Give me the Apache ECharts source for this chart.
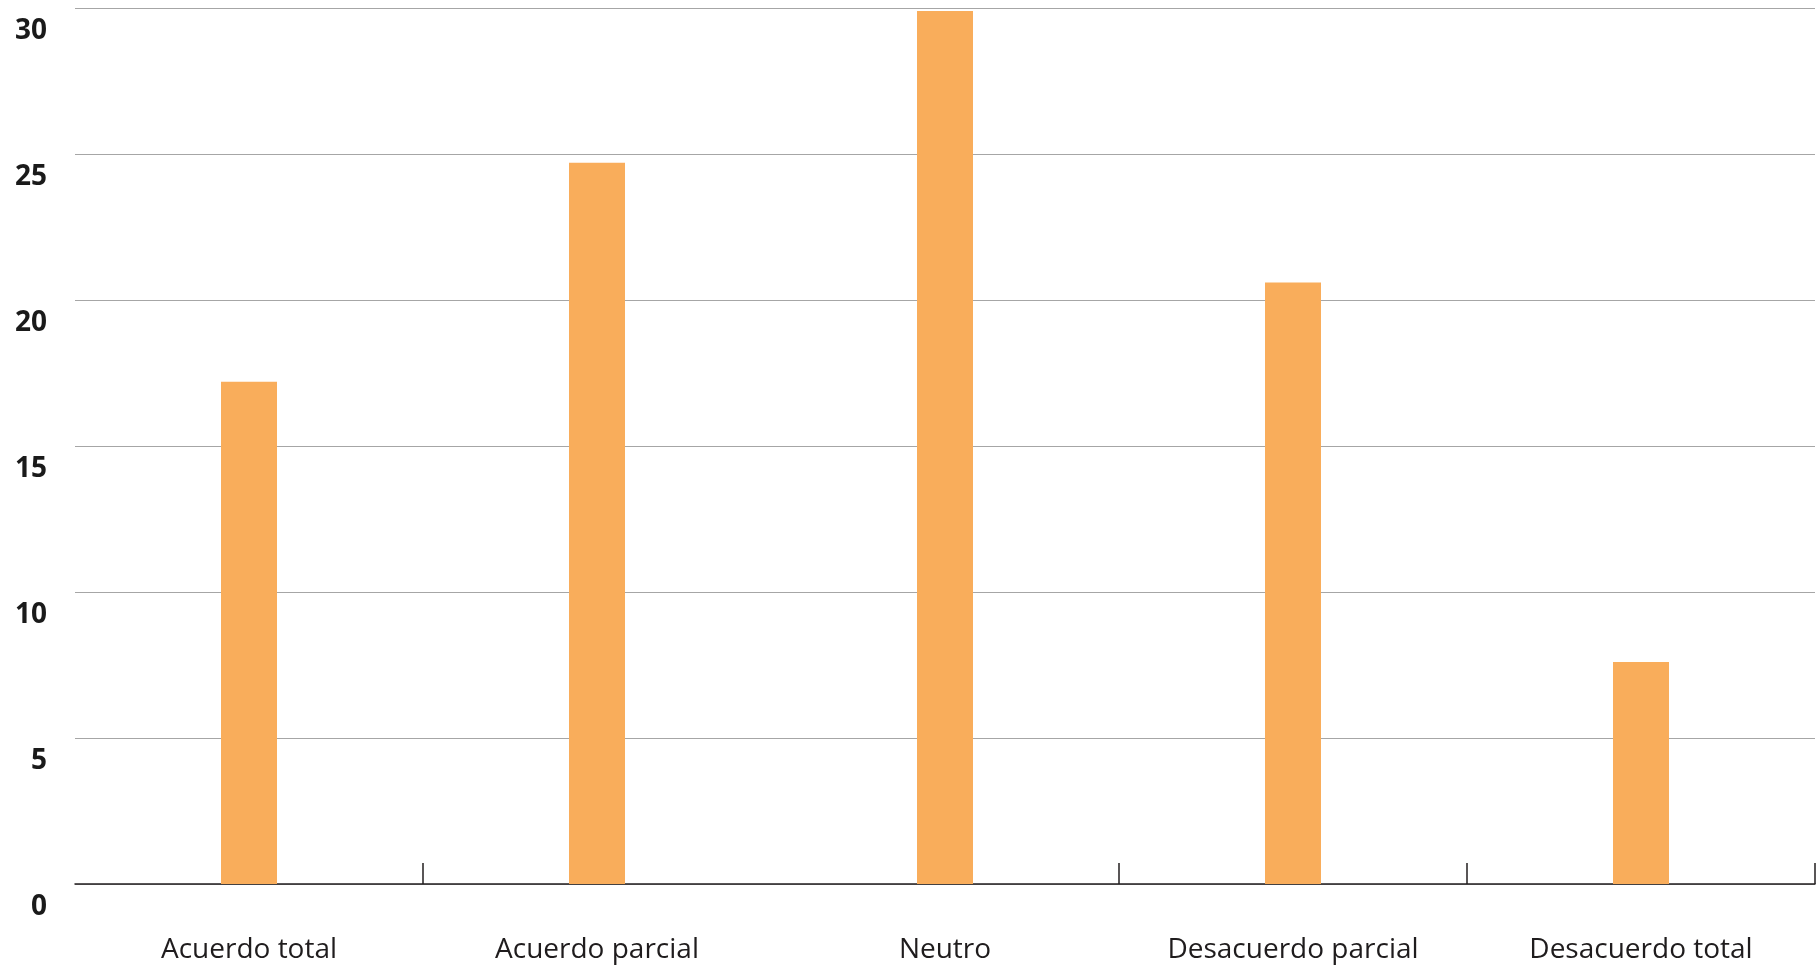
<!DOCTYPE html>
<html>
<head>
<meta charset="utf-8">
<script src="https://cdn.jsdelivr.net/npm/echarts@6/dist/echarts.min.js"></script>
<style>
html,body{margin:0;padding:0;background:#fff;}
#chart{width:1816px;height:968px;}
</style>
</head>
<body>
<div id="chart"></div>
<script>
const categories = ['Acuerdo total', 'Acuerdo parcial', 'Neutro', 'Desacuerdo parcial', 'Desacuerdo total'];
const values = [17.2, 24.7, 29.9, 20.6, 7.6];
const yTicks = [0, 5, 10, 15, 20, 25, 30];
const tickedCategories = [1, 3, 4];

const chart = echarts.init(document.getElementById('chart'), null, {renderer: 'canvas'});
chart.setOption({
  animation: false,
  backgroundColor: '#ffffff',
  grid: {left: 75, right: 1, top: 8, bottom: 84, containLabel: false},
  xAxis: {
    type: 'category',
    data: categories,
    boundaryGap: true,
    axisLine: {show: true, lineStyle: {color: '#231f20', width: 1.5}},
    axisTick: {
      show: true,
      inside: true,
      length: 21,
      lineStyle: {color: '#231f20', width: 1.5},
      interval: function (index) { return tickedCategories.indexOf(index) >= 0; }
    },
    axisLabel: {
      interval: 0,
      margin: 52,
      fontFamily: 'Open Sans',
      fontSize: 28,
      lineHeight: 28,
      color: '#1f1c1d'
    },
    splitLine: {show: false}
  },
  yAxis: {
    type: 'value',
    min: yTicks[0],
    max: yTicks[yTicks.length - 1],
    interval: yTicks[1] - yTicks[0],
    axisLine: {show: false},
    axisTick: {show: false},
    axisLabel: {
      margin: 28,
      fontFamily: 'Open Sans',
      fontWeight: 'bold',
      fontSize: 28,
      lineHeight: 46,
      verticalAlign: 'top',
      color: '#1a1a1a'
    },
    splitLine: {show: true, lineStyle: {color: '#a6a6a6', width: 1}}
  },
  series: [{
    type: 'bar',
    data: values,
    barWidth: 56,
    itemStyle: {color: '#F9AD5B'}
  }]
});
</script>
</body>
</html>
